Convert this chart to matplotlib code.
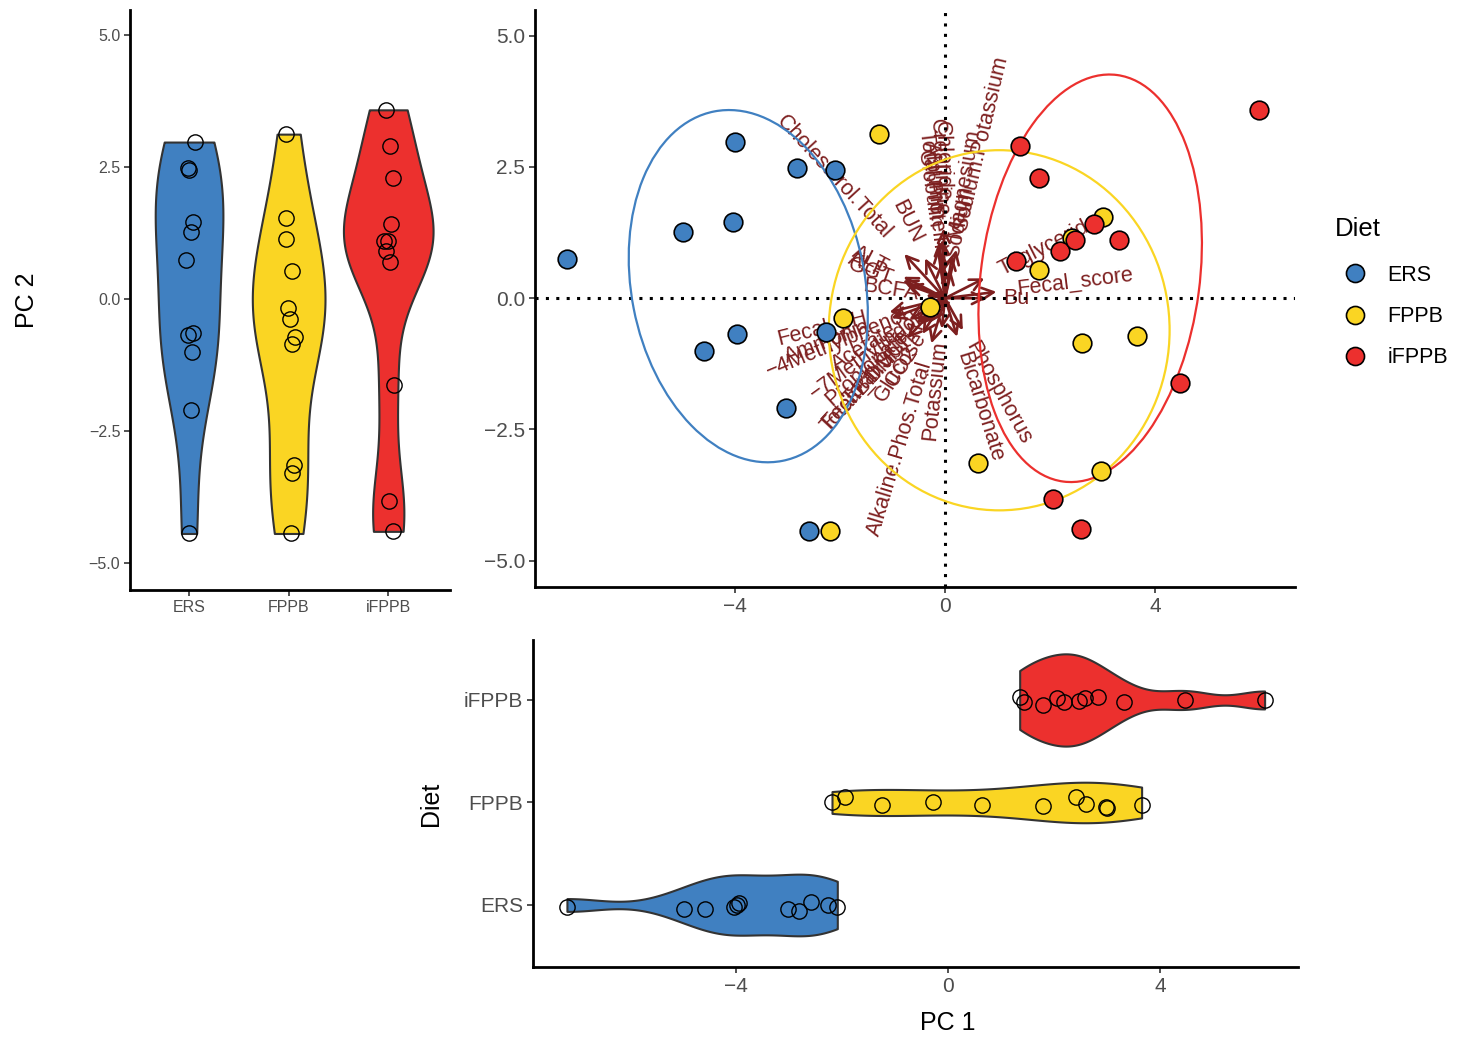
import numpy as np
import matplotlib
matplotlib.use('Agg')
import matplotlib.pyplot as plt
from matplotlib.patches import Ellipse
from matplotlib.lines import Line2D

plt.rcParams['font.family'] = ['Liberation Sans', 'DejaVu Sans']

groups = ['ERS', 'FPPB', 'iFPPB']
colors = ['#4080C1', '#FAD523', '#EC302E']

# PCA scores per diet (PC1, PC2), same sample order
ers_pc1 = [-7.19, -3.99, -2.81, -2.09, -4.98, -4.03, -3.95, -4.58, -2.26, -3.02, -2.59]
ers_pc2 = [0.74, 2.97, 2.48, 2.44, 1.26, 1.45, -0.69, -1.01, -0.65, -2.10, -4.44]
fppb_pc1 = [-1.25, -1.94, -0.29, -2.19, 1.79, 2.41, 3.00, 2.60, 3.65, 0.63, 2.97]
fppb_pc2 = [3.12, -0.38, -0.17, -4.44, 0.53, 1.14, 1.54, -0.86, -0.72, -3.14, -3.30]
ifppb_pc1 = [5.97, 1.43, 1.79, 1.35, 2.19, 2.47, 2.83, 3.31, 4.47, 2.05, 2.59]
ifppb_pc2 = [3.58, 2.90, 2.29, 0.70, 0.90, 1.10, 1.41, 1.10, -1.62, -3.83, -4.40]

# jitter offsets
ers_jit_x = [-0.03, 0.06, -0.01, 0.0, 0.02, 0.04, -0.01, 0.03, 0.04, 0.02, 0.0]
fppb_jit_x = [-0.03, 0.01, -0.01, 0.02, 0.03, -0.03, -0.03, 0.03, 0.06, 0.05, 0.03]
ifppb_jit_x = [-0.02, 0.02, 0.05, 0.02, -0.02, 0.0, 0.03, -0.04, 0.06, 0.01, 0.05]
ers_jit_y = [-0.02, 0.0, -0.06, -0.02, -0.04, -0.02, 0.02, -0.04, 0.0, -0.04, 0.03]
fppb_jit_y = [-0.02, 0.05, 0.0, 0.0, -0.03, 0.05, -0.05, -0.01, -0.02, -0.02, -0.04]
ifppb_jit_y = [0.0, -0.02, -0.05, 0.03, -0.02, -0.01, 0.03, -0.02, 0.0, 0.02, 0.02]

# confidence ellipses: centre x, centre y, width, height, angle
ell_cx = [-3.74, 1.03, 2.76]
ell_cy = [0.23, -0.61, 0.38]
ell_w = [4.44, 6.48, 4.16]
ell_h = [6.78, 6.86, 7.81]
ell_ang = [11, 0, -7.5]

# variable loadings
var_names = ['Cholesterol.Total', 'BUN', 'ALT', 'GGT', 'ALP', 'BCFA',
             'Total.Protein', 'Creatinine', 'Chloride', 'Albumin', 'Globulin',
             'Sodium', 'Magnesium',
             'Sodium.Potassium', 'Triglycerides', 'Fecal_score', 'Bu',
             'Phosphorus', 'Bicarbonate', 'Potassium', 'Alkaline.Phos.Total',
             'Glucose', 'CO2', 'Total.SCFA', 'Propionate', 'Acetate',
             'Total.Bilirubin', 'Fecal_DM',
             '\u22127Methylindole', '\u22124Methylphenol', 'Ammonia', 'Fecal_pH']
var_x = [-0.774, -0.380, -0.79, -0.716, -0.80, -0.36,
         -0.082, -0.054, -0.027, -0.109, -0.136,
         0.109, 0.136,
         0.217, 0.747, 0.978, 0.788,
         0.34, 0.231, -0.061, -0.26,
         -0.31, -0.43, -0.33, -0.54, -0.68,
         -0.46, -0.72,
         -0.22, -0.514, -1.019, -1.056]
var_y = [0.842, 0.761, 0.41, 0.258, 0.337, 0.057,
         0.679, 1.114, 1.33, 1.087, 0.951,
         0.543, 0.815,
         0.924, 0.380, 0.122, 0.0,
         -0.61, -0.734, -0.58, -0.86,
         -0.48, -0.68, -0.35, -0.48, -0.41,
         -0.50, -0.76,
         -0.16, -0.213, -0.381, -0.265]

pc1 = [ers_pc1, fppb_pc1, ifppb_pc1]
pc2 = [ers_pc2, fppb_pc2, ifppb_pc2]
jit_x = [ers_jit_x, fppb_jit_x, ifppb_jit_x]
jit_y = [ers_jit_y, fppb_jit_y, ifppb_jit_y]

arrow_col = '#7D1F1F'
tick_col = '#4D4D4D'


def bw_nrd0(v):
    v = np.asarray(v, float)
    hi = np.std(v, ddof=1)
    q = np.percentile(v, [25, 75])
    lo = min(hi, (q[1] - q[0]) / 1.34)
    return 0.9 * lo * len(v) ** (-0.2)


def density(v, grid):
    v = np.asarray(v, float)
    bw = bw_nrd0(v)
    z = (grid[:, None] - v[None, :]) / bw
    return np.exp(-0.5 * z ** 2).sum(axis=1) / (len(v) * bw * np.sqrt(2 * np.pi))


def violins(ax, data, jitter, horizontal=False):
    grids, dens = [], []
    for v in data:
        g = np.linspace(min(v), max(v), 512)
        grids.append(g)
        dens.append(density(v, g))
    dmax = max(d.max() for d in dens)
    for i, (g, d) in enumerate(zip(grids, dens)):
        pos = i + 1
        half = d / dmax * 0.45
        if horizontal:
            ax.fill_between(g, pos - half, pos + half, facecolor=colors[i],
                            edgecolor='#333333', lw=1.5, zorder=2)
            ax.plot(data[i], pos + np.array(jitter[i]), 'o', ms=11, mfc='none',
                    mec='black', mew=1.0, zorder=3)
        else:
            ax.fill_betweenx(g, pos - half, pos + half, facecolor=colors[i],
                             edgecolor='#333333', lw=1.5, zorder=2)
            ax.plot(pos + np.array(jitter[i]), data[i], 'o', ms=11, mfc='none',
                    mec='black', mew=1.0, zorder=3)


def style(ax, size):
    for s in ['top', 'right']:
        ax.spines[s].set_visible(False)
    for s in ['left', 'bottom']:
        ax.spines[s].set_linewidth(2.0)
    ax.tick_params(length=4, width=1.2, color='#333333', labelcolor=tick_col,
                   labelsize=size, pad=3)


fig = plt.figure(figsize=(14.57, 10.37), dpi=100)
W, H = 1457, 1037


def add_ax(x0, y0, x1, y1):
    return fig.add_axes([x0 / W, 1 - y1 / H, (x1 - x0) / W, (y1 - y0) / H])


# left: PC2 violins
axl = add_ax(130, 10, 450, 590)
violins(axl, pc2, jit_x)
axl.set_xlim(0.407, 3.62)
axl.set_ylim(-5.51, 5.47)
axl.set_xticks([1, 2, 3])
axl.set_xticklabels(groups)
axl.set_yticks([-5, -2.5, 0, 2.5, 5])
axl.set_yticklabels(['\u22125.0', '\u22122.5', '0.0', '2.5', '5.0'])
style(axl, 11.5)
axl.set_ylabel('PC 2', fontsize=18)
axl.yaxis.set_label_coords(-0.285, 0.5)

# centre: biplot
axb = add_ax(535, 10, 1295, 587)
for i in range(3):
    axb.add_patch(Ellipse((ell_cx[i], ell_cy[i]), ell_w[i], ell_h[i], angle=ell_ang[i],
                          fill=False, edgecolor=colors[i], lw=1.6, zorder=3))
for name, lx, ly in zip(var_names, var_x, var_y):
    axb.annotate('', xy=(lx, ly), xytext=(0, 0),
                 arrowprops=dict(arrowstyle='->', color=arrow_col, lw=1.9,
                                 shrinkA=0, shrinkB=0, mutation_scale=21),
                 zorder=2)
    ang = np.degrees(np.arctan(ly / lx)) if lx != 0 else 90
    axb.text(lx * 1.4, ly * 1.4, name, rotation=ang, rotation_mode='anchor',
             ha='left' if lx > 0 else 'right', va='center', color=arrow_col,
             fontsize=15.5, zorder=2, clip_on=True)
axb.axhline(0, color='black', lw=2.2, dashes=(1, 2.4), zorder=2.5)
axb.axvline(0, color='black', lw=2.2, dashes=(1, 2.4), zorder=2.5)
for i in range(3):
    axb.scatter(pc1[i], pc2[i], s=180, c=colors[i], edgecolors='black',
                linewidths=1.2, zorder=4)
axb.set_xlim(-7.795, 6.654)
axb.set_ylim(-5.50, 5.49)
axb.set_xticks([-4, 0, 4])
axb.set_xticklabels(['\u22124', '0', '4'])
axb.set_yticks([-5, -2.5, 0, 2.5, 5])
axb.set_yticklabels(['\u22125.0', '\u22122.5', '0.0', '2.5', '5.0'])
style(axb, 15)

# bottom: PC1 violins
axh = add_ax(533, 640, 1298, 967)
violins(axh, pc1, jit_y, horizontal=True)
axh.set_xlim(-7.83, 6.60)
axh.set_ylim(0.395, 3.585)
axh.set_yticks([1, 2, 3])
axh.set_yticklabels(groups)
axh.set_xticks([-4, 0, 4])
axh.set_xticklabels(['\u22124', '0', '4'])
style(axh, 15)
axh.set_ylabel('Diet', fontsize=18)
axh.yaxis.set_label_coords(-0.118, 0.5)
axh.set_xlabel('PC 1', fontsize=18)
axh.xaxis.set_label_coords(0.5425, -0.135)

# legend: title as its own text, entries below it
fig.text(1335 / W, 1 - 229 / H, 'Diet', fontsize=18.5, ha='left', va='center')
handles = [Line2D([], [], marker='o', ls='', ms=13, mfc=c, mec='black', mew=1.2)
           for c in colors]
fig.legend(handles, groups, loc='upper left',
           bbox_to_anchor=(1336 / W, 1 - 265 / H), frameon=False,
           fontsize=15.5, borderpad=0, borderaxespad=0,
           handlelength=1.8, handletextpad=0.6, labelspacing=0.94)

fig.savefig('out.png', dpi=100)
